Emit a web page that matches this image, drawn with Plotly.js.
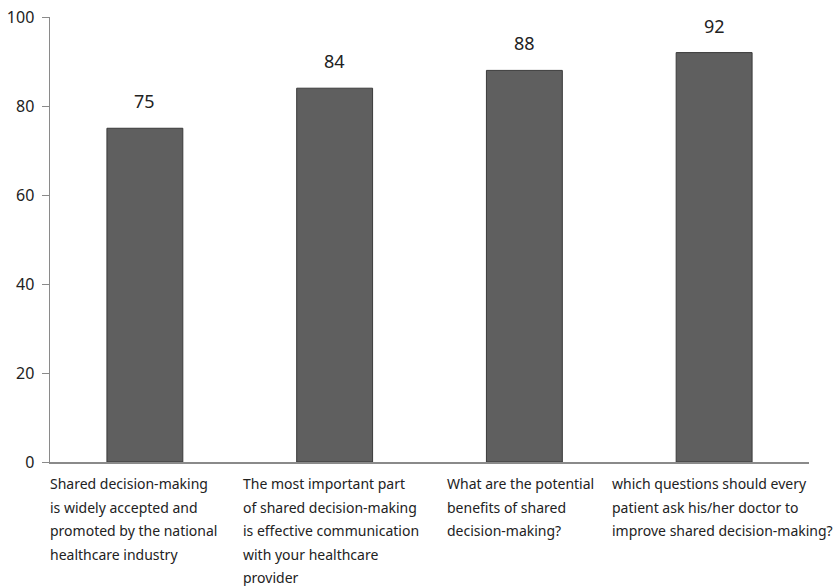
<!DOCTYPE html>
<html>
<head>
<meta charset="utf-8">
<script src="https://cdn.plot.ly/plotly-3.0.1.min.js"></script>
<style>html,body{margin:0;padding:0;background:#fff;}#chart{width:837px;height:586px;}</style>
</head>
<body>
<div id="chart"></div>
<script>
// ---- data ----
const categories = ["Q1", "Q2", "Q3", "Q4"];
const values = [75, 84, 88, 92];
const labelLines = [
  ["Shared decision-making", "is widely accepted and", "promoted by the national", "healthcare industry"],
  ["The most important part", "of shared decision-making", "is effective communication", "with your healthcare", "provider"],
  ["What are the potential", "benefits of shared", "decision-making?"],
  ["which questions should every", "patient ask his/her doctor to", "improve shared decision-making?"]
];
const yTicks = [0, 20, 40, 60, 80, 100];

// ---- style / layout ----
const FONT = "Noto Sans, Open Sans, DejaVu Sans, sans-serif";
const labelXShift = [0, 3, 17, -7];   // pixel nudges from category left boundary
const lineGap = 23.5;
const firstLineShift = 10;

const annotations = [];
values.forEach((v, i) => {
  annotations.push({
    x: categories[i], y: v, xref: "x", yref: "y",
    text: String(v), showarrow: false, yanchor: "bottom", yshift: 13,
    font: {family: FONT, size: 18, color: "#222"}
  });
});
labelLines.forEach((lines, i) => {
  lines.forEach((t, k) => {
    annotations.push({
      x: i / categories.length, y: 0, xref: "paper", yref: "paper",
      xanchor: "left", yanchor: "top", xshift: labelXShift[i] - 2,
      yshift: -(firstLineShift + k * lineGap),
      text: t, showarrow: false, align: "left",
      font: {family: FONT, size: 14, color: "#222"}
    });
  });
});

const trace = {
  type: "bar", x: categories, y: values,
  marker: {color: "#5f5f5f", line: {color: "#3a3a3a", width: 1}},
  hoverinfo: "none"
};

const layout = {
  width: 837, height: 586,
  margin: {l: 50, r: 28, t: 17, b: 124, pad: 0},
  paper_bgcolor: "#fff", plot_bgcolor: "#fff",
  bargap: 0.6,
  showlegend: false,
  font: {family: FONT, color: "#222"},
  xaxis: {
    type: "category", showticklabels: false, ticks: "",
    showline: true, linecolor: "#8a8a8a", linewidth: 1.5,
    showgrid: false, zeroline: false, fixedrange: true
  },
  yaxis: {
    range: [0, 100], tickvals: yTicks, ticks: "outside", ticklen: 7,
    tickcolor: "#8a8a8a", tickwidth: 1, showline: true, linecolor: "#8a8a8a", linewidth: 1.5,
    showgrid: false, zeroline: false, tickfont: {family: FONT, size: 16, color: "#222"},
    ticklabelstandoff: 4, fixedrange: true
  },
  annotations: annotations
};

Plotly.newPlot("chart", [trace], layout, {displayModeBar: false, staticPlot: true});
</script>
</body>
</html>
